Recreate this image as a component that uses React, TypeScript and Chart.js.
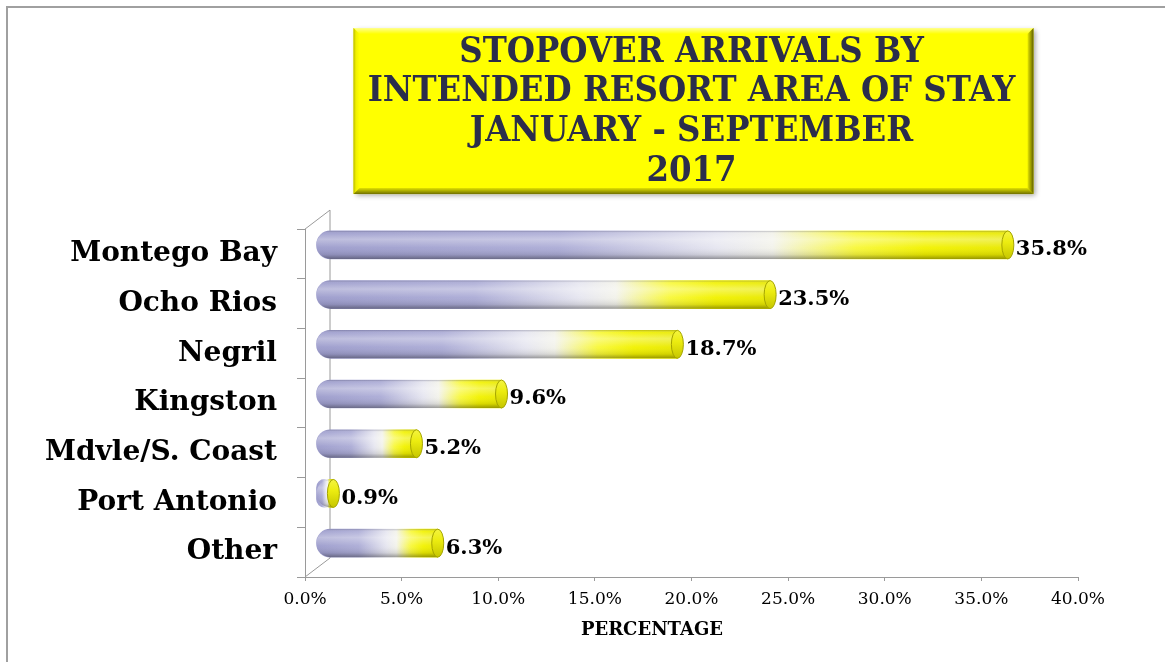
import React, { useEffect, useRef } from 'react';
import { Chart, registerables } from 'chart.js';

Chart.register(...registerables);

const categories = ['Montego Bay', 'Ocho Rios', 'Negril', 'Kingston', 'Mdvle/S. Coast', 'Port Antonio', 'Other'];
const shares = [35.8, 23.5, 18.7, 9.6, 5.2, 0.9, 6.3];
const titleLines = ['STOPOVER ARRIVALS BY', 'INTENDED RESORT AREA OF STAY', 'JANUARY - SEPTEMBER', '2017'];
const xAxisTitle = 'PERCENTAGE';
const xMin = 0;
const xMax = 40;
const xStep = 5;

const DEPTH_X = 11;
const DEPTH_Y = -9;
const BACK_X = 25;
const BACK_Y = -19;
const AXIS_COLOR = '#9a9a9a';

function barPath(ctx: CanvasRenderingContext2D, base: number, x: number, top: number, h: number) {
  const w = Math.max(x - base, 0.5);
  const r = Math.min(h / 2, w);
  ctx.beginPath();
  ctx.moveTo(x, top);
  ctx.lineTo(base + r, top);
  ctx.ellipse(base + r, top + h / 2, r, h / 2, 0, -Math.PI / 2, Math.PI / 2, true);
  ctx.lineTo(x, top + h);
  ctx.closePath();
}

const chart3d = {
  id: 'chart3d',
  beforeDraw(chart: any) {
    const ctx: CanvasRenderingContext2D = chart.ctx;
    const tb = chart.titleBlock;
    if (!tb) return;
    const cx = (tb.left + tb.right) / 2;
    const bw = 680;
    const bx = cx - bw / 2 + 2;
    const by = tb.top + 22;
    const bh = tb.bottom - 35 - by;
    const b = 6;
    ctx.save();
    ctx.shadowColor = 'rgba(0,0,0,0.35)';
    ctx.shadowBlur = 5;
    ctx.shadowOffsetX = 2;
    ctx.shadowOffsetY = 2;
    ctx.fillStyle = '#ffff00';
    ctx.fillRect(bx, by, bw, bh);
    ctx.restore();
    ctx.save();
    let g = ctx.createLinearGradient(0, by, 0, by + b);
    g.addColorStop(0, '#ffff90');
    g.addColorStop(1, '#ffff00');
    ctx.fillStyle = g;
    ctx.beginPath();
    ctx.moveTo(bx, by); ctx.lineTo(bx + bw, by); ctx.lineTo(bx + bw - b, by + b); ctx.lineTo(bx + b, by + b); ctx.closePath();
    ctx.fill();
    g = ctx.createLinearGradient(bx, 0, bx + b, 0);
    g.addColorStop(0, '#b8b800');
    g.addColorStop(0.4, '#f0f000');
    g.addColorStop(1, '#ffff00');
    ctx.fillStyle = g;
    ctx.beginPath();
    ctx.moveTo(bx, by); ctx.lineTo(bx + b, by + b); ctx.lineTo(bx + b, by + bh - b); ctx.lineTo(bx, by + bh); ctx.closePath();
    ctx.fill();
    g = ctx.createLinearGradient(bx + bw - b, 0, bx + bw, 0);
    g.addColorStop(0, '#e8e800');
    g.addColorStop(1, '#5e5e00');
    ctx.fillStyle = g;
    ctx.beginPath();
    ctx.moveTo(bx + bw, by); ctx.lineTo(bx + bw, by + bh); ctx.lineTo(bx + bw - b, by + bh - b); ctx.lineTo(bx + bw - b, by + b); ctx.closePath();
    ctx.fill();
    g = ctx.createLinearGradient(0, by + bh - b, 0, by + bh);
    g.addColorStop(0, '#e0e000');
    g.addColorStop(1, '#6e6e00');
    ctx.fillStyle = g;
    ctx.beginPath();
    ctx.moveTo(bx, by + bh); ctx.lineTo(bx + b, by + bh - b); ctx.lineTo(bx + bw - b, by + bh - b); ctx.lineTo(bx + bw, by + bh); ctx.closePath();
    ctx.fill();
    ctx.restore();
  },
  beforeDatasetsDraw(chart: any) {
    const ctx: CanvasRenderingContext2D = chart.ctx;
    const { left, top, bottom } = chart.chartArea;
    ctx.save();
    ctx.strokeStyle = AXIS_COLOR;
    ctx.lineWidth = 1;
    ctx.beginPath();
    ctx.moveTo(left, top);
    ctx.lineTo(left + BACK_X, top + BACK_Y);
    ctx.lineTo(left + BACK_X, bottom + BACK_Y);
    ctx.lineTo(left, bottom);
    ctx.stroke();
    ctx.restore();
    ctx.save();
    ctx.translate(DEPTH_X, DEPTH_Y);
  },
  afterDatasetsDraw(chart: any) {
    const ctx: CanvasRenderingContext2D = chart.ctx;
    const meta = chart.getDatasetMeta(0);
    meta.data.forEach((el: any, i: number) => {
      const { x, y, base, height } = el.getProps(['x', 'y', 'base', 'height'], true);
      const top = y - height / 2;
      const r = height / 2;
      ctx.save();
      barPath(ctx, base, x, top, height);
      const g = ctx.createLinearGradient(0, top, 0, top + height);
      g.addColorStop(0, 'rgba(60,60,90,0.32)');
      g.addColorStop(0.08, 'rgba(255,255,255,0.08)');
      g.addColorStop(0.3, 'rgba(255,255,255,0.35)');
      g.addColorStop(0.6, 'rgba(255,255,255,0.04)');
      g.addColorStop(0.85, 'rgba(0,0,0,0.10)');
      g.addColorStop(1, 'rgba(0,0,0,0.36)');
      ctx.fillStyle = g;
      ctx.fill();
      ctx.restore();
      ctx.save();
      ctx.beginPath();
      ctx.ellipse(x, y, 6, r, 0, 0, Math.PI * 2);
      const cg = ctx.createLinearGradient(0, top, 0, top + height);
      cg.addColorStop(0, '#f4f440');
      cg.addColorStop(0.4, '#ecec10');
      cg.addColorStop(1, '#c6c600');
      ctx.fillStyle = cg;
      ctx.fill();
      ctx.strokeStyle = '#a4a400';
      ctx.lineWidth = 1;
      ctx.stroke();
      ctx.restore();
      ctx.save();
      ctx.font = 'bold 21px "DejaVu Serif"';
      ctx.fillStyle = '#000';
      ctx.textAlign = 'left';
      ctx.textBaseline = 'middle';
      ctx.fillText(shares[i].toFixed(1) + '%', x + 8, y + 5);
      ctx.restore();
    });
    ctx.restore();
  },
  afterDraw(chart: any) {
    const ctx: CanvasRenderingContext2D = chart.ctx;
    const { left } = chart.chartArea;
    ctx.save();
    ctx.font = 'bold 18px "DejaVu Serif"';
    ctx.fillStyle = '#000';
    ctx.textAlign = 'center';
    ctx.textBaseline = 'middle';
    ctx.fillText(xAxisTitle, left + 347, chart.scales.x.bottom - 11);
    ctx.restore();
  },
};

function barGradient(c: any) {
  const chart = c.chart;
  if (!chart.chartArea || !chart.scales.x) return '#a4a4d2';
  const xs = chart.scales.x;
  const v = shares[c.dataIndex] ?? 0;
  const x0 = xs.getPixelForValue(0);
  const x1 = Math.max(xs.getPixelForValue(v), x0 + 1);
  const g = chart.ctx.createLinearGradient(x0, 0, x1, 0);
  g.addColorStop(0, '#9c9ccc');
  g.addColorStop(0.35, '#acacd6');
  g.addColorStop(0.58, '#e6e6f0');
  g.addColorStop(0.66, '#f2f2ea');
  g.addColorStop(0.78, '#f8f83a');
  g.addColorStop(0.88, '#f2f200');
  g.addColorStop(1, '#e8e800');
  return g;
}

export default function App() {
  const ref = useRef<HTMLCanvasElement | null>(null);
  useEffect(() => {
    if (!ref.current) return;
    const chart = new Chart(ref.current, {
      type: 'bar',
      data: {
        labels: categories,
        datasets: [
          {
            data: shares,
            backgroundColor: barGradient,
            borderWidth: 0,
            borderSkipped: false,
            borderRadius: { topLeft: 14, bottomLeft: 14, topRight: 0, bottomRight: 0 },
            barThickness: 28,
            clip: false as any,
          },
        ],
      },
      options: {
        indexAxis: 'y',
        responsive: false,
        animation: false,
        layout: { padding: { left: 5, right: 87, top: 6, bottom: 21 } },
        plugins: {
          legend: { display: false },
          tooltip: { enabled: false },
          title: {
            display: true,
            text: titleLines,
            fullSize: false,
            color: '#2b2d4b',
            font: { family: '"DejaVu Serif Condensed", "Liberation Serif"', weight: 'bold', size: 36, lineHeight: 1.103 },
            padding: { top: 26.5, bottom: 37.75 },
          },
        },
        scales: {
          x: {
            type: 'linear',
            min: xMin,
            max: xMax,
            afterFit: (s: any) => { s.height = 64; },
            ticks: {
              stepSize: xStep,
              callback: (v: any) => Number(v).toFixed(1) + '%',
              color: '#000',
              font: { family: 'DejaVu Serif', size: 17 },
              padding: 8,
              maxRotation: 0,
              autoSkip: false,
            },
            grid: { drawOnChartArea: false, tickLength: 4, color: AXIS_COLOR },
            border: { color: AXIS_COLOR },
          },
          y: {
            type: 'category',
            afterFit: (s: any) => { s.width = 300; },
            ticks: {
              color: '#000',
              font: { family: 'DejaVu Serif', weight: 'bold', size: 28 },
              padding: 20,
              autoSkip: false,
            },
            grid: { offset: true, drawOnChartArea: false, tickLength: 8, color: AXIS_COLOR },
            border: { color: AXIS_COLOR },
          },
        },
      },
      plugins: [chart3d],
    });
    return () => chart.destroy();
  }, []);

  return (
    <div style={{ position: 'fixed', left: 0, top: 0, width: 1165, height: 662, overflow: 'hidden', background: '#fff' }}>
      <div
        style={{
          position: 'absolute',
          left: 6,
          top: 6,
          width: 1200,
          height: 700,
          borderLeft: '2px solid #a0a0a0',
          borderTop: '2px solid #a0a0a0',
        }}
      />
      <canvas ref={ref} width={1165} height={662} style={{ position: 'absolute', left: 0, top: 0, width: 1165, height: 662 }} />
    </div>
  );
}
